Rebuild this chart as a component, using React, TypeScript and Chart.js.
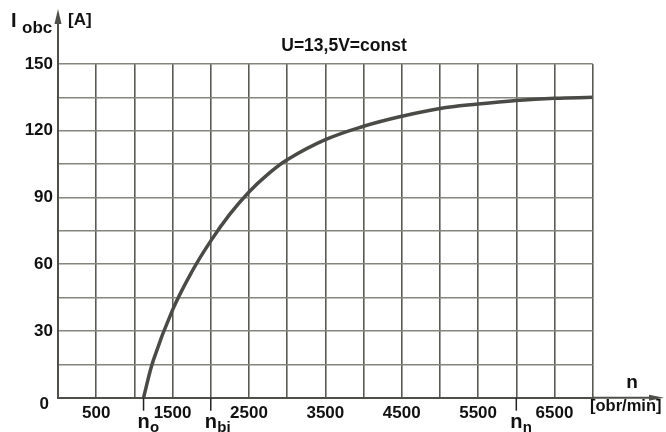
import React, { useEffect, useRef } from 'react';
import { Chart, registerables } from 'chart.js';

Chart.register(...registerables);

// Data
const rpm = [1120, 1250, 1500, 1750, 2000, 2250, 2500, 2750, 3000, 3500, 4000, 4500, 5000, 5500, 6000, 6500, 7000];
const current = [0, 17, 39.5, 56.5, 70.5, 82.5, 92.5, 100.5, 107, 116, 122, 126.5, 130, 132, 133.6, 134.6, 135];

const xTickLabels = ['500', '1500', '2500', '3500', '4500', '5500', '6500'];
const yTickLabels = ['30', '60', '90', '120', '150'];

const markerValues = [1120, 2000, 6000];
const markerSubs = ['o', 'bi', 'n'];

const titleText = 'U=13,5V=const';
const yAxisSymbol = 'I';
const yAxisSub = 'obc';
const yAxisUnit = '[A]';
const xAxisSymbol = 'n';
const xAxisUnit = '[obr/min]';

const FONT = '"Liberation Sans", Arial, sans-serif';

const annotations = {
  id: 'annotations',
  afterDraw(chart: any) {
    const ctx = chart.ctx as CanvasRenderingContext2D;
    const { left, right, top, bottom } = chart.chartArea;
    const xs = chart.scales.x;
    ctx.save();
    ctx.strokeStyle = '#4f4f4a';
    ctx.fillStyle = '#4f4f4a';
    ctx.lineWidth = 2;
    // y axis extension + arrow
    ctx.beginPath();
    ctx.moveTo(left, top);
    ctx.lineTo(left, 20);
    ctx.stroke();
    ctx.beginPath();
    ctx.moveTo(left, 9);
    ctx.lineTo(left - 3.5, 24);
    ctx.lineTo(left + 3.5, 24);
    ctx.closePath();
    ctx.fill();
    // x axis extension + arrow
    ctx.beginPath();
    ctx.moveTo(right, bottom);
    ctx.lineTo(655, bottom);
    ctx.stroke();
    ctx.beginPath();
    ctx.moveTo(664, bottom);
    ctx.lineTo(649, bottom - 3);
    ctx.lineTo(649, bottom + 3);
    ctx.closePath();
    ctx.fill();

    ctx.fillStyle = '#111';
    ctx.textBaseline = 'alphabetic';
    // markers
    markerValues.forEach((v, i) => {
      const px = xs.getPixelForValue(v);
      ctx.strokeStyle = '#222';
      ctx.lineWidth = 1.5;
      ctx.beginPath();
      ctx.moveTo(px, bottom);
      ctx.lineTo(px, bottom + 13);
      ctx.stroke();
      ctx.font = `bold 20px ${FONT}`;
      ctx.textAlign = 'center';
      ctx.fillText('n', px, bottom + 30);
      ctx.font = `bold 15px ${FONT}`;
      ctx.textAlign = 'left';
      ctx.fillText(markerSubs[i], px + 6.5, bottom + 34);
    });

    // y axis title
    ctx.textAlign = 'left';
    ctx.font = `bold 20px ${FONT}`;
    ctx.fillText(yAxisSymbol, 11, 27);
    ctx.font = `bold 17px ${FONT}`;
    ctx.fillText(yAxisSub, 22, 33);
    ctx.fillText(yAxisUnit, 68, 25);
    // title
    ctx.textAlign = 'center';
    ctx.font = `bold 17.5px ${FONT}`;
    ctx.fillText(titleText, 344, 51);
    // x axis title
    ctx.font = `bold 19px ${FONT}`;
    ctx.fillText(xAxisSymbol, 632, 388);
    ctx.font = `bold 16.5px ${FONT}`;
    ctx.textAlign = 'left';
    ctx.fillText(xAxisUnit, 590, 411);
    // zero label
    ctx.font = `bold 17px ${FONT}`;
    ctx.textAlign = 'right';
    ctx.fillText('0', 49, 409);
    ctx.restore();
  },
};

export default function App() {
  const ref = useRef<HTMLCanvasElement | null>(null);
  useEffect(() => {
    if (!ref.current) return;
    const chart = new Chart(ref.current, {
      type: 'line',
      data: {
        datasets: [
          {
            data: rpm.map((x, i) => ({ x, y: current[i] })),
            borderColor: '#4a4a46',
            borderWidth: 3.5,
            pointRadius: 0,
            tension: 0.4,
            fill: false,
          },
        ],
      },
      options: {
        animation: false,
        responsive: false,
        layout: { padding: { left: 0, top: 64, right: 73.3, bottom: 0 } },
        plugins: { legend: { display: false }, tooltip: { enabled: false }, title: { display: false } },
        scales: {
          x: {
            type: 'linear',
            min: 0,
            max: 7000,
            afterFit: (s: any) => {
              s.height = 34.3;
            },
            ticks: {
              stepSize: 500,
              autoSkip: false,
              maxRotation: 0,
              padding: 5,
              color: '#111',
              font: { family: FONT, size: 17, weight: 'bold' },
              callback: (v: any) => (xTickLabels.includes(String(v)) ? String(v) : ''),
            },
            grid: { color: '#5a5a54', lineWidth: 1.6, drawTicks: false },
            border: { color: '#4f4f4a', width: 2 },
          },
          y: {
            type: 'linear',
            min: 0,
            max: 150,
            afterFit: (s: any) => {
              s.width = 58;
            },
            ticks: {
              stepSize: 15,
              autoSkip: false,
              padding: 5,
              color: '#111',
              font: { family: FONT, size: 17, weight: 'bold' },
              callback: (v: any) => (yTickLabels.includes(String(v)) ? String(v) : ''),
            },
            grid: { color: '#85857d', lineWidth: 1.6, drawTicks: false },
            border: { color: '#4f4f4a', width: 2 },
          },
        },
      } as any,
      plugins: [annotations],
    });
    return () => chart.destroy();
  }, []);
  return (
    <div style={{ position: 'fixed', left: 0, top: 0, width: 666, height: 432, background: '#fff' }}>
      <canvas ref={ref} width={666} height={432} style={{ display: 'block' }} />
    </div>
  );
}
